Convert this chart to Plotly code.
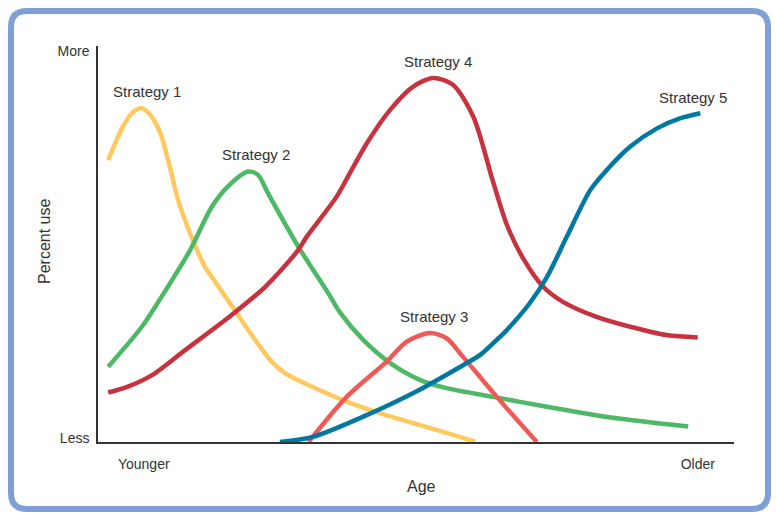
import plotly.graph_objects as go

# ---- data (age position 0-100, percent use 0-100) ----
s1_x = [1.6, 3.9, 5.5, 6.9, 8.2, 9.8, 11.3, 12.6, 14.7, 16.8, 17.9, 21.5, 24.7, 27.3, 29.4, 33.6, 39.1, 44.3, 49.5, 54.8, 59.3]
s1_y = [71.2, 79.6, 83.3, 84.3, 82.6, 78.0, 69.4, 61.1, 51.8, 44.3, 41.7, 33.3, 25.8, 20.3, 17.4, 14.0, 10.2, 7.3, 4.8, 2.3, 0.1]

s2_x = [1.6, 6.9, 10.0, 14.5, 17.9, 20.4, 23.6, 25.2, 26.7, 31.5, 36.2, 38.1, 41.7, 45.9, 50.6, 54.8, 62.1, 70.6, 81.0, 92.8]
s2_y = [19.0, 29.1, 36.7, 48.5, 59.4, 64.5, 68.3, 67.4, 62.9, 49.3, 37.6, 32.6, 25.8, 20.0, 15.7, 13.6, 11.4, 8.9, 6.1, 3.9]

s3_x = [33.1, 39.1, 45.4, 48.5, 52.2, 54.8, 57.4, 62.7, 69.0]
s3_y = [0.0, 11.4, 20.3, 25.3, 27.5, 26.2, 21.5, 11.4, 0.0]

s4_x = [1.6, 4.7, 8.5, 13.7, 20.4, 26.3, 31.5, 32.8, 37.5, 39.6, 42.3, 45.9, 49.5, 52.7, 55.8, 59.0, 62.1, 64.3, 66.8, 70.0, 73.1, 78.4, 83.7, 89.4, 94.3]
s4_y = [12.5, 14.0, 16.9, 23.2, 31.3, 39.2, 48.5, 51.8, 61.9, 67.9, 75.5, 83.8, 89.7, 91.9, 90.2, 82.2, 65.8, 54.8, 46.5, 39.2, 35.4, 31.6, 29.1, 27.0, 26.4]

s5_x = [28.6, 33.8, 41.7, 49.5, 57.4, 60.1, 62.7, 64.3, 67.9, 70.6, 73.7, 77.4, 80.0, 83.7, 87.9, 91.5, 94.7]
s5_y = [0.0, 1.3, 6.4, 12.3, 19.4, 22.0, 25.8, 28.3, 35.1, 41.7, 51.8, 63.6, 68.7, 74.6, 79.2, 81.7, 83.0]

series_names = ["Strategy 1", "Strategy 2", "Strategy 3", "Strategy 4", "Strategy 5"]
series_colors = ["#FFC95F", "#4DB865", "#EE5B57", "#C7323F", "#00789F"]

label_x = [7.7, 24.8, 52.8, 53.5, 93.6]
label_y = [88.6, 72.5, 31.6, 96.2, 87.1]

x_tick_vals = [7.2, 94.3]
x_tick_text = ["Younger", "Older"]
y_tick_vals = [1.1, 98.6]
y_tick_text = ["Less", "More"]

FONT = "Liberation Sans, Arial, sans-serif"
TXT = "#333333"

fig = go.Figure()
all_x = [s1_x, s2_x, s3_x, s4_x, s5_x]
all_y = [s1_y, s2_y, s3_y, s4_y, s5_y]
for xs, ys, name, col in zip(all_x, all_y, series_names, series_colors):
    fig.add_trace(go.Scatter(x=xs, y=ys, mode="lines", name=name,
                             line=dict(color=col, width=4.5, shape="spline", smoothing=0.8),
                             hoverinfo="skip"))

for name, lx, ly in zip(series_names, label_x, label_y):
    fig.add_annotation(x=lx, y=ly, text=name, showarrow=False,
                       font=dict(family=FONT, size=15, color=TXT),
                       xanchor="center", yanchor="middle")

# geometry in pixels -> paper
W, H = 776, 516
ML, MR, MT, MB = 98, 42, 46, 74
PW, PH = W - ML - MR, H - MT - MB

def px(x):
    return (x - ML) / PW

def py(y):
    return (H - MB - y) / PH

# axis titles
fig.add_annotation(x=px(421), y=py(486), xref="paper", yref="paper", text="Age",
                   showarrow=False, font=dict(family=FONT, size=16, color=TXT),
                   xanchor="center", yanchor="middle")
fig.add_annotation(x=px(44), y=py(242), xref="paper", yref="paper", text="Percent use",
                   showarrow=False, textangle=-90, font=dict(family=FONT, size=16, color=TXT),
                   xanchor="center", yanchor="middle")

# rounded border
L, R, T, B, r = 11, 768, 11, 509, 16
path = (f"M {px(L + r)},{py(T)} L {px(R - r)},{py(T)} Q {px(R)},{py(T)} {px(R)},{py(T + r)} "
        f"L {px(R)},{py(B - r)} Q {px(R)},{py(B)} {px(R - r)},{py(B)} "
        f"L {px(L + r)},{py(B)} Q {px(L)},{py(B)} {px(L)},{py(B - r)} "
        f"L {px(L)},{py(T + r)} Q {px(L)},{py(T)} {px(L + r)},{py(T)} Z")
fig.add_shape(type="path", path=path, xref="paper", yref="paper",
              line=dict(color="#7FA0D6", width=6), layer="below")

fig.update_layout(
    width=W, height=H,
    margin=dict(l=ML, r=MR, t=MT, b=MB, pad=0),
    paper_bgcolor="white", plot_bgcolor="white",
    showlegend=False,
    font=dict(family=FONT, size=14, color=TXT),
    xaxis=dict(range=[0, 100], showgrid=False, zeroline=False, showline=True,
               linecolor="#333333", linewidth=1.5, ticks="",
               tickvals=x_tick_vals, ticktext=x_tick_text, ticklabelstandoff=8,
               tickfont=dict(family=FONT, size=14, color=TXT), fixedrange=True),
    yaxis=dict(range=[0, 100], showgrid=False, zeroline=False, showline=True,
               linecolor="#333333", linewidth=1.5, ticks="",
               tickvals=y_tick_vals, ticktext=y_tick_text, ticklabelstandoff=4,
               tickfont=dict(family=FONT, size=14, color=TXT), fixedrange=True),
)

fig.write_html("out.html", config={"displayModeBar": False},
               post_script="document.body.style.margin='0';")
